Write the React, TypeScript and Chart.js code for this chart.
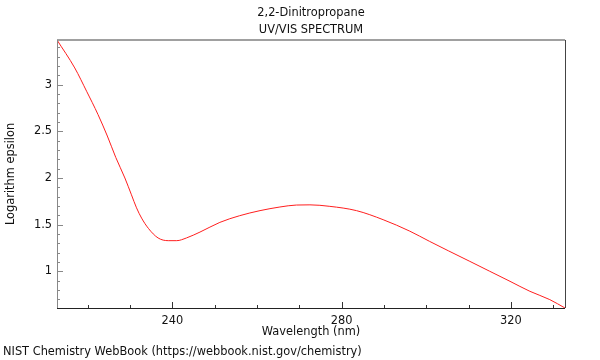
import { useEffect, useRef } from "react";
import { Chart, registerables } from "chart.js";

Chart.register(...registerables);

const wavelengths = [
  212.7, 216.9, 219.7, 222.4, 224.6, 226.6, 228.75, 230.3, 231.5, 232.7, 234.3,
  236.6, 239.0, 241.0, 243.3, 246.5, 251.2, 255.9, 260.7, 265.4, 269.3, 272.5,
  277.2, 283.5, 289.8, 296.1, 300.8, 305.2, 310.3, 315.0, 319.8, 324.5, 329.2,
  332.8,
];
const logEpsilon = [
  3.48, 3.18, 2.93, 2.68, 2.45, 2.22, 2.0, 1.82, 1.68, 1.57, 1.46, 1.357, 1.328,
  1.328, 1.357, 1.42, 1.524, 1.596, 1.65, 1.689, 1.71, 1.712, 1.696, 1.65,
  1.553, 1.43, 1.32, 1.22, 1.106, 1.0, 0.892, 0.785, 0.696, 0.606,
];
const xTickLabels = [240, 280, 320];
const yTickLabels = [1, 1.5, 2, 2.5, 3];
const titleLines = ["2,2-Dinitropropane", "UV/VIS SPECTRUM"];
const xTitle = "Wavelength (nm)";
const yTitle = "Logarithm epsilon";
const footerText = "NIST Chemistry WebBook (https://webbook.nist.gov/chemistry)";

const FONT = "'DejaVu Sans', sans-serif";
const FS = 11.4;
const TEXT = "#111";

const framePlugin = {
  id: "frame",
  afterDatasetsDraw(chart: any) {
    const { ctx, chartArea } = chart;
    const { left, right, top, bottom } = chartArea;
    const xs = chart.scales.x;
    const ys = chart.scales.y;
    ctx.save();
    ctx.strokeStyle = "#333";
    ctx.lineWidth = 1;
    const xMinor = 10;
    for (let v = Math.ceil(xs.min / xMinor) * xMinor; v <= xs.max + 1e-9; v += xMinor) {
      const px = Math.round(xs.getPixelForValue(v)) + 0.5;
      const len = v % 40 === 0 ? 6 : 3;
      ctx.beginPath();
      ctx.moveTo(px, bottom);
      ctx.lineTo(px, bottom - len);
      ctx.stroke();
    }
    ctx.strokeStyle = "#888";
    for (let i = Math.ceil(ys.min * 10 - 1e-9); i <= Math.floor(ys.max * 10 + 1e-9); i++) {
      const v = i / 10;
      const py = Math.round(ys.getPixelForValue(v)) + 0.5;
      const len = i % 5 === 0 ? 6 : 3;
      ctx.beginPath();
      ctx.moveTo(left, py);
      ctx.lineTo(left + len, py);
      ctx.stroke();
    }
    ctx.strokeStyle = "#a0a0a0";
    ctx.lineWidth = 2;
    ctx.beginPath();
    ctx.moveTo(left, top);
    ctx.lineTo(right, top);
    ctx.stroke();
    ctx.lineWidth = 1;
    ctx.strokeStyle = "#444";
    ctx.beginPath();
    ctx.moveTo(Math.round(right) + 0.5, top);
    ctx.lineTo(Math.round(right) + 0.5, bottom);
    ctx.stroke();
    ctx.strokeStyle = "#888";
    ctx.beginPath();
    ctx.moveTo(Math.round(left) + 0.5, top);
    ctx.lineTo(Math.round(left) + 0.5, bottom);
    ctx.stroke();
    ctx.strokeStyle = "#222";
    ctx.beginPath();
    ctx.moveTo(left, Math.round(bottom) + 0.5);
    ctx.lineTo(right, Math.round(bottom) + 0.5);
    ctx.stroke();
    ctx.fillStyle = TEXT;
    ctx.font = FS + "px " + FONT;
    ctx.textAlign = "left";
    ctx.textBaseline = "middle";
    ctx.fillText(footerText, 3, 352.5);
    ctx.restore();
  },
};

export default function App() {
  const ref = useRef<HTMLCanvasElement | null>(null);
  useEffect(() => {
    if (!ref.current) return;
    const chart = new Chart(ref.current, {
      type: "line",
      data: {
        datasets: [
          {
            data: wavelengths.map((w, i) => ({ x: w, y: logEpsilon[i] })),
            borderColor: "rgb(255,30,30)",
            borderWidth: 1,
            pointRadius: 0,
            cubicInterpolationMode: "monotone",
            fill: false,
          },
        ],
      },
      options: {
        animation: false,
        responsive: false,
        layout: { padding: { left: 0, right: 35, top: 0, bottom: 0 } },
        plugins: {
          legend: { display: false },
          tooltip: { enabled: false },
          title: {
            display: true,
            fullSize: false,
            text: titleLines,
            color: TEXT,
            font: { family: FONT, size: FS, weight: "normal", lineHeight: 1.49 },
            padding: { top: 5, bottom: 1 },
          },
        },
        scales: {
          x: {
            type: "linear",
            min: 212.7,
            max: 332.8,
            grid: { display: false, drawTicks: false },
            border: { display: false },
            afterBuildTicks: (s: any) => {
              s.ticks = xTickLabels.map((v) => ({ value: v }));
            },
            afterFit: (s: any) => {
              s.height = 52;
            },
            ticks: {
              color: TEXT,
              font: { family: FONT, size: FS },
              padding: 6,
              maxRotation: 0,
              autoSkip: false,
              callback: (v: any) => String(v),
            },
            title: {
              display: true,
              text: xTitle,
              color: TEXT,
              font: { family: FONT, size: FS, lineHeight: 1.2 },
              padding: { top: 0, bottom: 21.2 },
            },
          },
          y: {
            type: "linear",
            min: 0.606,
            max: 3.48,
            grid: { display: false, drawTicks: false },
            border: { display: false },
            afterBuildTicks: (s: any) => {
              s.ticks = yTickLabels.map((v) => ({ value: v }));
            },
            afterFit: (s: any) => {
              s.width = 57;
            },
            ticks: {
              color: TEXT,
              font: { family: FONT, size: FS },
              padding: 5,
              autoSkip: false,
              callback: (v: any) => String(v),
            },
            title: {
              display: true,
              text: yTitle,
              color: TEXT,
              font: { family: FONT, size: FS, lineHeight: 1.2 },
              padding: { top: 4.5, bottom: 0 },
            },
          },
        },
      },
      plugins: [framePlugin],
    });
    return () => chart.destroy();
  }, []);
  return (
    <div style={{ position: "absolute", left: 0, top: 0, width: 600, height: 360 }}>
      <canvas ref={ref} width={600} height={360} style={{ display: "block" }} />
    </div>
  );
}
